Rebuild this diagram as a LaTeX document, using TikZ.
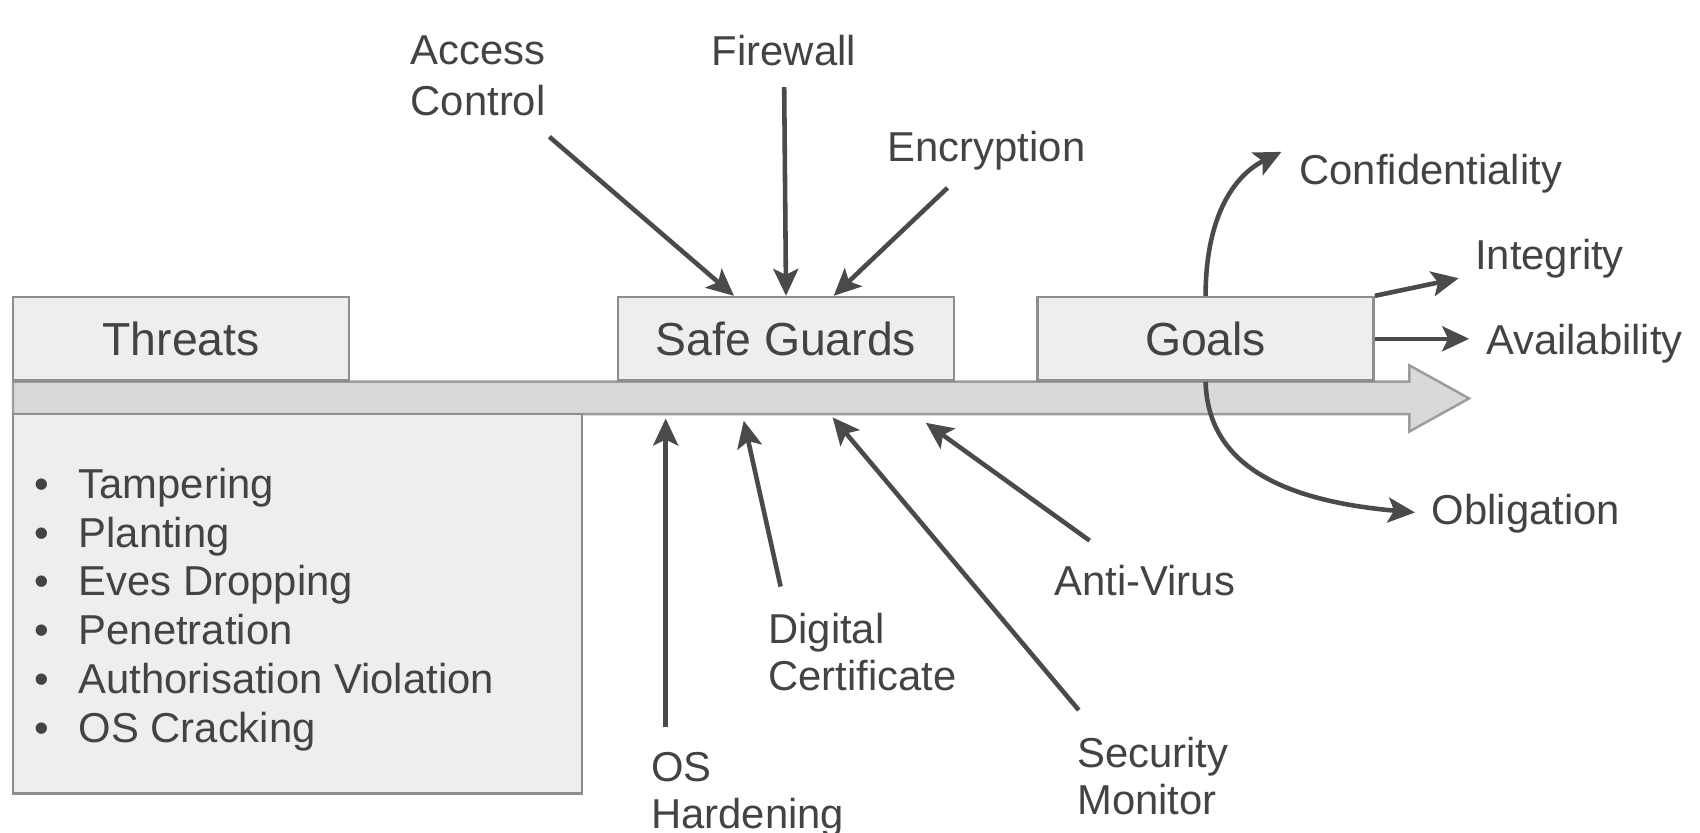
\documentclass[tikz,border=0pt]{standalone}
\usepackage{fontspec}
\setmainfont{Liberation Sans}
\usetikzlibrary{arrows.meta}

\definecolor{boxfill}{HTML}{EEEEEE}
\definecolor{boxline}{HTML}{8E8E8E}
\definecolor{bandfill}{HTML}{D9D9D9}
\definecolor{bandline}{HTML}{9C9C9C}
\definecolor{ink}{HTML}{434343}
\definecolor{arrowink}{HTML}{4A4A4A}

\newlength{\px}
\setlength{\px}{0.0108418cm}

\tikzstyle{stage}=[draw=boxline,fill=boxfill,line width=0.7pt,
    minimum width=310\px,minimum height=77\px,inner sep=0pt,
    text=ink,font=\fontsize{13.2}{15}\selectfont]
\tikzstyle{tag}=[inner sep=0pt,text=ink,align=left,
    font=\fontsize{11.9}{13.5}\selectfont]
\tikzstyle{band}=[draw=bandline,fill=bandfill,line width=0.7pt]
\tikzstyle{guard arrow}=[draw=arrowink,line width=1.3pt,
    -{Stealth[length=2.7mm,width=2.5mm,inset=0.6mm]}]

\newcommand{\guard}[3][]{\draw[guard arrow,#1] (#2) -- (#3);}
\newcommand{\bul}{\makebox[41\px][l]{\textbullet}}

\begin{document}
\begin{tikzpicture}[x=0.0108418cm,y=-0.0108418cm]
    \useasboundingbox (0,0) rectangle (1568,768);
    %
    \draw[band] (12,352) -- (1300,352) -- (1300,337) -- (1355,367.5)
        -- (1300,398) -- (1300,382) -- (12,382) -- cycle;
    %
    \node[stage] (threats) at (167,312.5) {Threats};
    \node[stage] (sg) at (725,312.5) {Safe Guards};
    \node[stage] (goals) at (1112,312.5) {Goals};
    \node[stage,minimum width=525\px,minimum height=350\px] (tlbox) at (274.5,557) {};
    \node[tag,anchor=north west,font=\fontsize{11.9}{13.9}\selectfont] (tlist) at (31,431)
        {\bul Tampering\\ \bul Planting\\ \bul Eves Dropping\\
         \bul Penetration\\ \bul Authorisation Violation\\ \bul OS Cracking};
    %
    \node[tag,anchor=north,align=center,font=\fontsize{11.9}{14.5}\selectfont] (ac) at (441,32) {Access\\Control};
    \node[tag,anchor=base] (fw) at (723,60) {Firewall};
    \node[tag,anchor=base] (enc) at (910,149) {Encryption};
    \node[tag,anchor=base west] (conf) at (1198,170) {Confidentiality};
    \node[tag,anchor=base west] (integ) at (1360,249) {Integrity};
    \node[tag,anchor=base west] (avail) at (1370,327) {Availability};
    \node[tag,anchor=base west] (oblig) at (1320,484) {Obligation};
    \node[tag,anchor=base west] (av) at (972,549) {Anti-Virus};
    \node[tag,anchor=north west] (dc) at (708,565) {Digital\\Certificate};
    \node[tag,anchor=north west] (sm) at (993,679) {Security\\Monitor};
    \node[tag,anchor=north west] (osh) at (600,693) {OS\\Hardening};
    %
    \guard[shorten <=9pt]{ac}{[shift={(-48,0)}]sg.north}
    \guard[shorten <=6pt]{fw}{sg.north}
    \guard[shorten <=7pt]{enc}{[shift={(44,0)}]sg.north}
    %
    \draw[guard arrow] (goals.north) .. controls (1112,200) and (1138,162)
        .. ([shift={(-16,-20)}]conf.west);
    \guard[shorten >=4.6pt]{goals.north east}{integ}
    \guard[shorten >=4.6pt]{goals.east}{goals.east -| avail.west}
    \draw[guard arrow,shorten >=4.6pt] (goals.south) .. controls (1114,430)
        and (1185,462) .. (oblig.west);
    %
    \coordinate (oshTip) at (614,386);
    \coordinate (dcTip) at (686,388);
    \coordinate (smTip) at (768,385);
    \coordinate (avTip) at (854,390);
    \guard[shorten <=7pt]{osh.north west -| oshTip}{oshTip}
    \guard{[shift={(12,-24)}]dc.north west}{dcTip}
    \guard{[shift={(2,-24)}]sm.north west}{smTip}
    \guard[shorten <=11.5pt]{av}{avTip}
\end{tikzpicture}
\end{document}
